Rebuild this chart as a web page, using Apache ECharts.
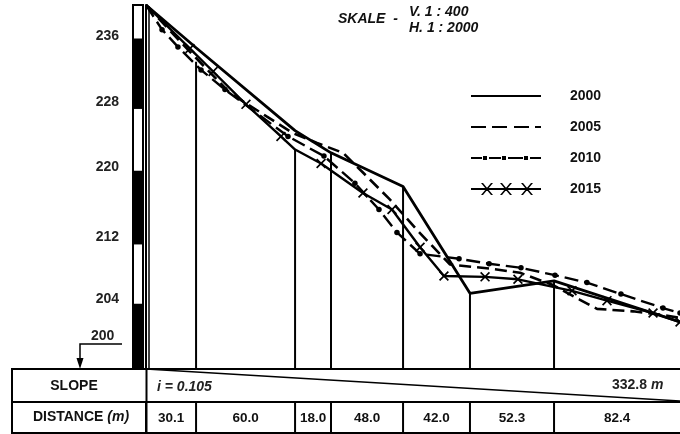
<!DOCTYPE html>
<html><head><meta charset="utf-8">
<style>html,body{margin:0;padding:0;background:#fff}#c{width:680px;height:434px}</style>
<script src="https://cdn.jsdelivr.net/npm/echarts@6/dist/echarts.min.js"></script>
</head><body><div id="c"></div>
<script>
const yTicks = [204, 212, 220, 228, 236];
const barBounds = [196, 203.7, 211.2, 219.9, 227.7, 236, 240.2];
const stations = [0, 31.2, 92.9, 115.3, 160.2, 201.9, 254.3, 332.8];
const distanceLabels = ['30.1', '60.0', '18.0', '48.0', '42.0', '52.3', '82.4'];
const dropTops = [233.3, 222.6, 222.2, 218.1, 205.1, 206.6];
const dropX = [31.2, 92.9, 115.3, 160.2, 201.9, 254.3];
const s2000 = [[0,240.2],[31.2,235.0],[92.9,224.9],[115.3,222.2],[160.2,218.1],[201.9,205.1],[254.3,206.6],[332.8,201.6]];
const s2005 = [[0,240.2],[27.4,234.5],[52.3,229.5],[75.4,226.6],[91.6,224.6],[106.6,223.4],[122.8,222.2],[135.2,219.8],[152.1,216.5],[168.9,212.8],[189.5,208.6],[214.4,208.1],[233.1,207.6],[253.6,206.1],[270.5,204.3],[281.1,203.2],[303.5,202.9],[320.3,202.5],[332.8,202.1]];
const s2010 = [[0,240.2],[10,237.2],[19.9,235.1],[34.3,232.3],[49.2,229.9],[88.5,224.2],[110.9,221.8],[130.2,218.5],[145.2,215.3],[156.4,212.5],[170.8,209.9],[195.1,209.3],[213.8,208.7],[233.7,208.2],[254.9,207.3],[274.8,206.4],[296,205],[322.2,203.3],[332.8,202.7]];
const s2015 = [[0,240.2],[27.4,234.9],[41.8,232.1],[62.3,228.1],[84.1,224.2],[92.9,222.6],[109.1,220.9],[135.2,217.3],[153.3,215.3],[170.8,210.7],[185.7,207.2],[211.3,207.1],[231.8,206.8],[265.5,205.4],[287.3,204.2],[316,202.7],[332.8,201.6]];
const FONT = '"Liberation Sans", Arial, sans-serif';
const XPATH = 'path://M0 1.2L1.2 0L10 8.8L8.8 10ZM8.8 0L10 1.2L1.2 10L0 8.8Z';
const X_ICON = 'path://M0 5H70V7H0Z'
 + 'M10 0L12 0L22 12L20 12ZM20 0L22 0L12 12L10 12Z'
 + 'M29 0L31 0L41 12L39 12ZM39 0L41 0L31 12L29 12Z'
 + 'M50 0L52 0L62 12L60 12ZM60 0L62 0L52 12L50 12Z';
const DOT_ICON = 'path://M0 5H11V7H0Z M12 4H16V8H12Z M18 5H30V7H18Z M31 4H35V8H31Z M37 5H52V7H37Z M53 4H57V8H53Z M59 5H70V7H59Z';
const DASH_ICON = 'path://M0 5H15V7H0Z M21 5H36V7H21Z M43 5H58V7H43Z M64 5H70V7H64Z';
const SOLID_ICON = 'path://M0 5H70V7H0Z';

const markerSkip2015 = [0, 5];
const chart = echarts.init(document.getElementById('c'), null, {renderer:'canvas'});

function rectFn(params, api){
  const i = params.dataIndex;
  const a = api.coord([0, barBounds[i]]);
  const b = api.coord([0, barBounds[i+1]]);
  return {type:'rect', shape:{x:a[0]-13, y:b[1], width:10, height:a[1]-b[1]},
    style:{fill: i % 2 === 0 ? '#000' : '#fff', stroke:'#000', lineWidth:2}};
}
function dropFn(params, api){
  const a = api.coord([api.value(0), api.value(1)]);
  const b = api.coord([api.value(0), 196]);
  return {type:'line', shape:{x1:a[0], y1:a[1], x2:b[0], y2:b[1]}, style:{stroke:'#000', lineWidth:2}};
}
function cellFn(params, api){
  const x = api.value(0), i = params.dataIndex;
  const a = api.coord([x, 1]), b = api.coord([x, 0]);
  const kids = [{type:'line', shape:{x1:a[0], y1:a[1], x2:b[0], y2:b[1]}, style:{stroke:'#000', lineWidth:2}}];
  if (i < distanceLabels.length) {
    const m = api.coord([(x + stations[i+1]) / 2, 0.46]);
    kids.push({type:'text', x:m[0], y:m[1], style:{text:distanceLabels[i], align:'center', verticalAlign:'middle', font:'bold 13.5px '+FONT, fill:'#111'}});
  }
  return {type:'group', children:kids};
}

chart.setOption({
  animation:false,
  backgroundColor:'#fff',
  grid:[
    {left:146, top:5, width:534, height:363},
    {left:146, top:369, width:534, height:64}
  ],
  xAxis:[
    {type:'value', min:0, max:332.8, show:false, gridIndex:0},
    {type:'value', min:0, max:332.8, show:false, gridIndex:1}
  ],
  yAxis:[
    {type:'value', min:196, max:240.2, gridIndex:0, splitLine:{show:false},
     axisLine:{show:true, onZero:false, lineStyle:{color:'#000', width:2}},
     axisTick:{show:false},
     axisLabel:{customValues:yTicks, margin:27, color:'#222', fontFamily:FONT, fontWeight:'bold', fontSize:14,
       formatter:v=>'{'+(v===212?'low':'up')+'|'+v+'}',
       rich:{up:{padding:[0,0,7,0], fontFamily:FONT, fontWeight:'bold', fontSize:14, color:'#222'},
             low:{padding:[2,0,0,0], fontFamily:FONT, fontWeight:'bold', fontSize:14, color:'#222'}}}},
    {type:'value', min:0, max:2, gridIndex:1, show:false}
  ],
  legend:{
    left:466, top:84, orient:'vertical', itemWidth:70, itemHeight:12, itemGap:17, selectedMode:false,
    itemStyle:{color:'#000', borderWidth:0}, lineStyle:{width:0},
    textStyle:{fontFamily:FONT, fontWeight:'bold', fontSize:14, color:'#111', padding:[0,0,0,24]},
    data:[{name:'2000',icon:SOLID_ICON},{name:'2005',icon:DASH_ICON},{name:'2010',icon:DOT_ICON},{name:'2015',icon:X_ICON}]
  },
  series:[
    {type:'custom', name:'scale', renderItem:rectFn, data:barBounds.slice(0,-1).map((v,i)=>[0,v]), clip:false, silent:true},
    {type:'custom', name:'drops', renderItem:dropFn, data:dropX.map((x,i)=>[x,dropTops[i]]), silent:true},
    {type:'line', name:'2000', data:s2000, symbol:'none', lineStyle:{color:'#000', width:2.8}, itemStyle:{color:'#000'}},
    {type:'line', name:'2005', data:s2005, symbol:'none', lineStyle:{color:'#000', width:2.6, type:[12,6]}, itemStyle:{color:'#000'}},
    {type:'line', name:'2010', data:s2010, symbol:(v,p)=>p.dataIndex===0?'none':'circle', symbolSize:5.5, lineStyle:{color:'#000', width:2.4, type:[14,6]}, itemStyle:{color:'#000'}},
    {type:'line', name:'2015', data:s2015, symbol:(v,p)=>markerSkip2015.includes(p.dataIndex)?'none':XPATH, symbolSize:10, lineStyle:{color:'#000', width:2.4}, itemStyle:{color:'#000'}},
    {type:'line', name:'slope', xAxisIndex:1, yAxisIndex:1, data:[[0,2],[332.8,1]], symbol:'none', lineStyle:{color:'#000', width:1.6}},
    {type:'custom', name:'cells', xAxisIndex:1, yAxisIndex:1, renderItem:cellFn, data:stations.slice(0,-1).map(x=>[x,0]), clip:false, silent:true}
  ],
  graphic:[
    {type:'rect', shape:{x:12, y:369, width:680, height:64}, style:{fill:'none', stroke:'#000', lineWidth:2}},
    {type:'line', shape:{x1:12, y1:402, x2:680, y2:402}, style:{stroke:'#000', lineWidth:2}},
    {type:'line', shape:{x1:146.5, y1:369, x2:146.5, y2:433}, style:{stroke:'#000', lineWidth:2}},
    {type:'line', shape:{x1:149, y1:6, x2:149, y2:369}, style:{stroke:'#000', lineWidth:1.5}},
    {type:'text', x:74, y:386, style:{text:'SLOPE', align:'center', verticalAlign:'middle', font:'bold 14px '+FONT, fill:'#111'}},
    {type:'text', x:81, y:417, style:{text:'{a|DISTANCE }{b|(m)}', align:'center', verticalAlign:'middle',
      rich:{a:{font:'bold 14px '+FONT, fill:'#111'}, b:{font:'italic bold 14px '+FONT, fill:'#111'}}}},
    {type:'text', x:157, y:387, style:{text:'i = 0.105', verticalAlign:'middle', font:'italic bold 14px '+FONT, fill:'#222'}},
    {type:'text', x:612, y:385, style:{text:'332.8 {b|m}', verticalAlign:'middle', font:'bold 14px '+FONT, fill:'#222',
      rich:{b:{font:'italic bold 14px '+FONT, fill:'#222'}}}},
    {type:'text', x:338, y:19, style:{text:'SKALE  -', verticalAlign:'middle', font:'italic bold 14px '+FONT, fill:'#111'}},
    {type:'text', x:409, y:12, style:{text:'V. 1 : 400', verticalAlign:'middle', font:'italic bold 14px '+FONT, fill:'#111'}},
    {type:'text', x:409, y:28, style:{text:'H. 1 : 2000', verticalAlign:'middle', font:'italic bold 14px '+FONT, fill:'#111'}},
    {type:'text', x:91, y:336, style:{text:'200', verticalAlign:'middle', font:'bold 14px '+FONT, fill:'#222'}},
    {type:'polyline', shape:{points:[[122,344],[80,344],[80,360]]}, style:{fill:'none', stroke:'#000', lineWidth:1.5}},
    {type:'polygon', shape:{points:[[76.5,358],[83.5,358],[80,369]]}, style:{fill:'#000'}}
  ]
});
</script></body></html>
